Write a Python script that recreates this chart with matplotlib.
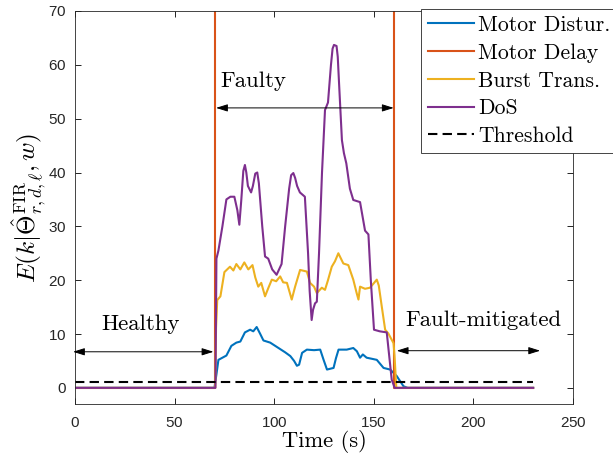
import numpy as np
import matplotlib
matplotlib.use('Agg')
import matplotlib.pyplot as plt

plt.rcParams['font.family'] = 'serif'
plt.rcParams['font.serif'] = ['cmr10']
plt.rcParams['mathtext.fontset'] = 'cm'
plt.rcParams['axes.unicode_minus'] = False
plt.rcParams['axes.formatter.use_mathtext'] = True

# Data
t_dist = [0, 70, 71, 72, 74, 76, 78.5, 81, 83, 85.3, 87.9, 89.5, 91.2, 93, 94.6, 98, 100.5,
          103, 105.5, 108.1, 110, 111.4, 112.5, 114, 116.4, 120, 123.1, 124.8, 126.5, 129.8,
          131, 132.3, 136.4, 139.7, 141.5, 143.1, 144.5, 146.4, 149, 151.5, 154.9, 158.2,
          161.5, 164.9, 167, 230]
motor_dist = [0, 0, 2.5, 5.2, 5.6, 6.0, 7.8, 8.4, 8.6, 10.3, 10.8, 10.5, 11.3, 10.0, 8.8, 8.4,
              7.8, 7.2, 6.6, 5.9, 5.0, 4.1, 4.3, 6.5, 7.1, 7.0, 7.1, 5.2, 3.4, 3.7, 5.5, 7.1,
              7.1, 7.4, 6.8, 5.6, 6.2, 5.6, 5.4, 5.2, 3.7, 3.4, 2.2, 0.3, 0, 0]

t_delay = [0, 70.5, 70.5, 160.2, 160.2, 230]
motor_delay = [0, 0, 500, 500, 0, 0]

t_burst = [0, 70.4, 70.8, 71.4, 73, 75, 77.8, 79.5, 81, 83, 85, 87, 89.1, 90.5, 92, 93.5,
           95.4, 97, 98.8, 101, 103, 104.5, 106.4, 108.8, 110.5, 113, 116.4, 118, 120,
           121.4, 123.9, 125.5, 127, 128.9, 130.5, 132.2, 134.7, 137.2, 139.7, 141.4, 142.3,
           143.1, 145.6, 148.1, 151.5, 152.5, 154, 155.7, 157.3, 159.9, 160.4, 161.3, 230]
burst_trans = [0, 0, 11.1, 16.3, 17.0, 21.5, 22.5, 21.8, 23.0, 22.0, 23.3, 22.0, 22.8, 20.5,
               18.8, 19.5, 17.0, 18.5, 20.1, 19.8, 20.7, 19.6, 19.5, 16.4, 18.8, 21.9, 21.6,
               19.5, 18.8, 17.6, 18.6, 18.2, 20.0, 22.5, 23.5, 25.0, 23.1, 22.8, 20.1, 17.6,
               16.4, 18.8, 18.4, 18.6, 20.1, 19.0, 15.1, 10.8, 10.1, 8.3, 6.0, 0, 0]

t_dos = [0, 70.5, 71, 72, 74, 76, 78, 80, 81.5, 82.5, 83.5, 84.5, 85.3, 86.0, 86.8, 88.4,
         89.3, 90.5, 91.5, 92.3, 94, 95.4, 97, 99, 101.2, 103.7, 105.5, 107.5, 108.5, 109.6,
         110.5, 111.5, 112.9, 115.4, 117, 117.8, 118.8, 119.5, 120.5, 121.4, 122.5, 124,
         125.5, 127, 128.5, 129.3, 130, 131.3, 131.9, 132.5, 134, 135, 136.2, 138, 139.7,
         143.1, 145.6, 147.3, 148.5, 150.1, 153, 156.5, 158, 159, 160.5, 230]
dos = [0, 0, 24.0, 25.5, 30.0, 35.0, 35.5, 35.5, 33.0, 30.3, 35.0, 40.3, 41.4, 40.0, 37.5,
       36.3, 37.5, 39.8, 40.0, 38.0, 30.0, 24.4, 24.0, 22.0, 21.0, 23.0, 30.0, 37.0, 39.5,
       39.9, 39.0, 37.5, 36.3, 35.5, 25.0, 18.0, 12.6, 14.5, 15.7, 16.0, 25.0, 40.0, 51.6,
       53.0, 60.0, 63.0, 63.7, 63.5, 61.5, 57.0, 46.0, 43.6, 41.7, 37.0, 34.9, 34.5, 29.2,
       28.5, 20.0, 10.8, 10.5, 10.3, 5.0, 1.5, 0, 0]

t_thr = [0, 230]
threshold = [1, 1]

fig = plt.figure(figsize=(6.13, 4.59), dpi=100)
ax = fig.add_axes([75 / 613, 55 / 459, 498 / 613, 393 / 459])

ax.plot(t_dist, motor_dist, color='#0072BD', lw=1.5, label='Motor Distur.')
ax.plot(t_delay, motor_delay, color='#D95319', lw=1.5, label='Motor Delay')
ax.plot(t_burst, burst_trans, color='#EDB120', lw=1.5, label='Burst Trans.')
ax.plot(t_dos, dos, color='#7E2F8E', lw=1.5, label='DoS')
ax.plot(t_thr, threshold, color='k', lw=1.5, ls='--', dashes=(4.5, 2.5), label='Threshold')

ax.set_xlim(0, 250)
ax.set_ylim(-3, 70)
ax.set_xticks(np.arange(0, 251, 50))
ax.set_yticks(np.arange(0, 71, 10))
ax.tick_params(direction='in', top=True, right=True, length=4, width=0.6, labelsize=11)
ax.tick_params(axis='x', pad=8.5)
ax.tick_params(axis='y', pad=6)
for lbl in ax.get_xticklabels() + ax.get_yticklabels():
    lbl.set_fontfamily('Liberation Sans')
    lbl.set_color('#262626')
for sp in ax.spines.values():
    sp.set_linewidth(0.6)
    sp.set_color('#262626')

ax.set_xlabel('Time (s)', fontsize=16.2, labelpad=0)
ax.set_ylabel(r'$E(k|\hat{\Theta}^{\mathrm{FIR}}_{r,d,\ell},w)$', fontsize=18.2, labelpad=0)

# phase annotations
arr = dict(arrowstyle='<|-|>,head_length=0.7,head_width=0.22', color='k', lw=0.7,
           shrinkA=0, shrinkB=0)
ax.annotate('', xy=(-1, 6.7), xytext=(69.5, 6.7), arrowprops=arr, annotation_clip=False)
ax.annotate('', xy=(70.8, 52), xytext=(160, 52), arrowprops=arr)
ax.annotate('', xy=(161.5, 6.9), xytext=(233.5, 6.9), arrowprops=arr)
ax.text(33, 11.8, 'Healthy', fontsize=16.4, ha='center', va='center')
ax.text(89.5, 57, 'Faulty', fontsize=16.4, ha='center', va='center')
ax.text(205, 12.6, 'Fault-mitigated', fontsize=16.4, ha='center', va='center')

leg = fig.legend(loc='upper left', bbox_to_anchor=(421 / 613, 1 - 9 / 459), fontsize=15.6,
                 frameon=True, fancybox=False, framealpha=1, edgecolor='#262626',
                 borderaxespad=0, borderpad=0.3, handlelength=2.15, handletextpad=0.18,
                 labelspacing=0.38)
leg.get_frame().set_linewidth(0.6)

fig.savefig('out.png', dpi=100)
